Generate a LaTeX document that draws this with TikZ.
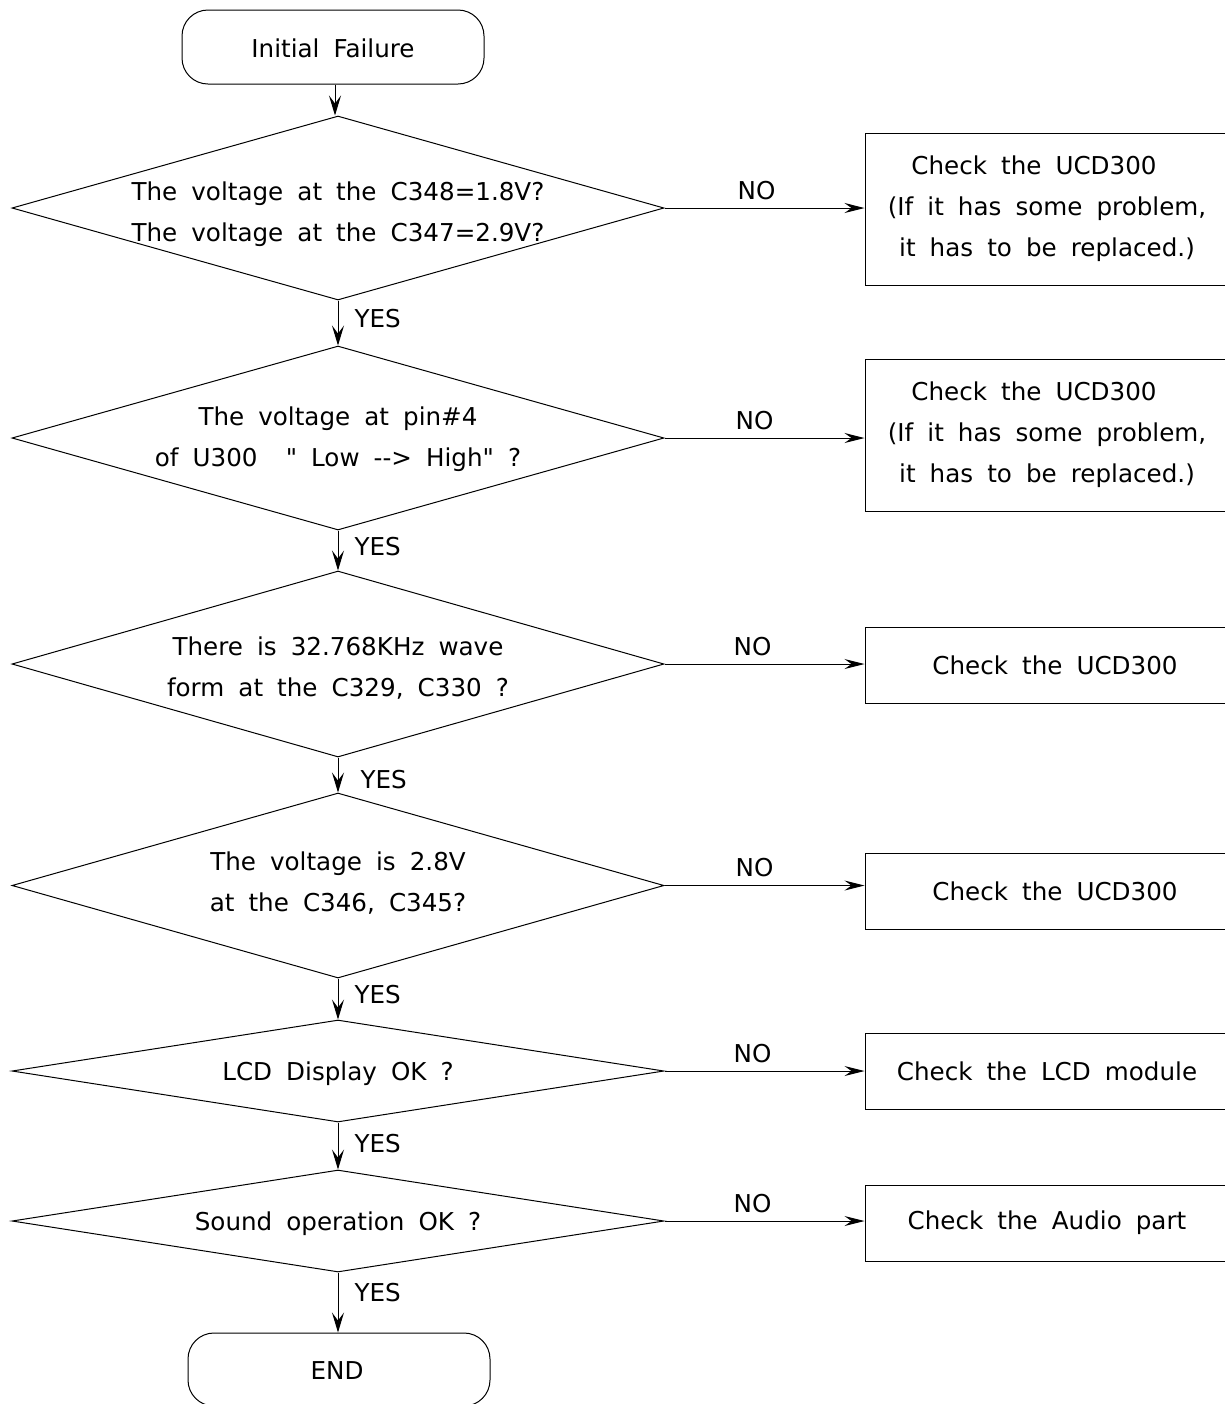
\documentclass[tikz,border=0pt]{standalone}
\usepackage{fontspec}
\setmainfont[WordSpace=1.8, Ligatures=TeXOff]{DejaVu Sans}
\usetikzlibrary{positioning,arrows.meta,shapes.geometric}

\begin{document}
\begin{tikzpicture}[
    x=0.5pt, y=-0.5pt,
    every node/.style={font=\fontsize{12.3}{20.5}\selectfont},
    terminal/.style={draw, rounded corners=13pt, minimum width=151pt, minimum height=37pt, inner sep=0pt},
    decision/.style={draw, diamond, aspect=3.5, inner sep=0pt, minimum width=326pt},
    question/.style={align=center, inner sep=0pt},
    checkbox/.style={draw, rectangle, minimum width=182pt, inner sep=0pt, align=center},
    lbl/.style={inner sep=2pt},
    line width=0.5pt,
    down/.style={-{Stealth[length=10pt, width=6pt, inset=4pt]}},
    side/.style={-{Stealth[length=10pt, width=5pt, inset=3.5pt]}}
  ]
    \useasboundingbox (0,0) rectangle (1225,1404);

    \node[terminal, text height=11pt] (start) at (333,47) {Initial Failure};
    \node[decision, minimum height=92pt] (volt) at (338,208) {};
    \node[question] (voltq) at (338,214) {The voltage at the C348=1.8V?\\The voltage at the C347=2.9V?};
    \node[decision, minimum height=92pt] (pin) at (338,438) {};
    \node[question] (pinq) at (338,439) {The voltage at pin\#4\\of U300\ \ " Low --> High" ?};
    \node[decision, minimum height=93pt] (wave) at (338,664) {};
    \node[question] (waveq) at (338,668) {There is 32.768KHz wave\\form at the C329, C330 ?};
    \node[decision, minimum height=92.5pt] (vlcd) at (338,885.5) {};
    \node[question] (vlcdq) at (338,883) {The voltage is 2.8V\\at the C346, C345?};
    \node[decision, minimum height=51pt, aspect=6.4] (lcd) at (338,1071) {};
    \node[question] (lcdq) at (338,1074) {LCD Display OK ?};
    \node[decision, minimum height=51pt, aspect=6.4] (sound) at (338,1221) {};
    \node[question] (soundq) at (338,1224) {Sound operation OK ?};
    \node[terminal, minimum height=36.5pt] (end) at (339,1369.5) {};
    \node (endq) at (337,1371) {END};

    \node[checkbox, minimum height=76pt] (chk1) at (1047,209) {Check the UCD300\hspace*{13pt}\\(If it has some problem,\\it has to be replaced.)};
    \node[checkbox, minimum height=76pt] (chk2) at (1047,435) {Check the UCD300\hspace*{13pt}\\(If it has some problem,\\it has to be replaced.)};
    \node[checkbox, minimum height=38pt] (chk3) at (1047,665) {\hspace*{8pt}Check the UCD300};
    \node[checkbox, minimum height=38pt] (chk4) at (1047,891) {\hspace*{8pt}Check the UCD300};
    \node[checkbox, minimum height=38pt] (chk5) at (1047,1071) {Check the LCD module};
    \node[checkbox, minimum height=38pt] (chk6) at (1047,1223) {Check the Audio part};

    % yes branch
    \draw[down] (start.south -| 335,0) -- (volt.north -| 335,0);
    \draw[down] (volt) -- (pin) node[lbl, pos=0.41, right, xshift=6pt] {YES};
    \draw[down] (pin) -- (wave) node[lbl, pos=0.41, right, xshift=6pt] {YES};
    \draw[down] (wave) -- (vlcd) node[lbl, pos=0.64, right, xshift=9pt] {YES};
    \draw[down] (vlcd) -- (lcd) node[lbl, pos=0.4, right, xshift=6pt] {YES};
    \draw[down] (lcd) -- (sound) node[lbl, pos=0.44, right, xshift=6pt] {YES};
    \draw[down] (sound) -- (end.north -| sound.south) node[lbl, pos=0.34, right, xshift=6pt] {YES};

    % no branch
    \draw[side] (volt.east) -- (volt.east -| chk1.west) node[lbl, pos=0.46, above, yshift=2pt] {NO};
    \draw[side] (pin.east) -- (pin.east -| chk2.west) node[lbl, pos=0.45, above, yshift=2pt] {NO};
    \draw[side] (wave.east) -- (wave.east -| chk3.west) node[lbl, pos=0.44, above, yshift=2pt] {NO};
    \draw[side] (vlcd.east) -- (vlcd.east -| chk4.west) node[lbl, pos=0.45, above, yshift=2pt] {NO};
    \draw[side] (lcd.east) -- (lcd.east -| chk5.west) node[lbl, pos=0.44, above, yshift=2pt] {NO};
    \draw[side] (sound.east) -- (sound.east -| chk6.west) node[lbl, pos=0.44, above, yshift=2pt] {NO};
  \end{tikzpicture}
\end{document}
